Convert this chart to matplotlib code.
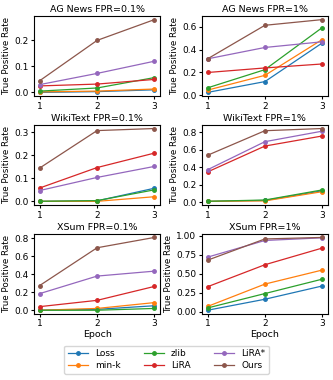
import matplotlib
matplotlib.use('Agg')
import matplotlib.pyplot as plt

epochs = [1, 2, 3]
methods = ['Loss', 'min-k', 'zlib', 'LiRA', 'LiRA*', 'Ours']
colors = ['#1f77b4', '#ff7f0e', '#2ca02c', '#d62728', '#9467bd', '#8c564b']

titles = ['AG News FPR=0.1%', 'AG News FPR=1%',
          'WikiText FPR=0.1%', 'WikiText FPR=1%',
          'XSum FPR=0.1%', 'XSum FPR=1%']

# TPR per method (Loss, min-k, zlib, LiRA, LiRA*, Ours)
ag_01 = [[0.0, 0.003, 0.01], [0.002, 0.005, 0.013], [0.005, 0.017, 0.057],
         [0.025, 0.032, 0.05], [0.03, 0.073, 0.12], [0.045, 0.2, 0.28]]
ag_1 = [[0.025, 0.12, 0.46], [0.045, 0.175, 0.49], [0.065, 0.225, 0.595],
        [0.2, 0.24, 0.275], [0.32, 0.42, 0.47], [0.32, 0.615, 0.665]]
wiki_01 = [[0.0, 0.002, 0.057], [0.0, 0.0, 0.02], [0.0, 0.003, 0.05],
           [0.058, 0.147, 0.21], [0.047, 0.104, 0.152], [0.145, 0.308, 0.317]]
wiki_1 = [[0.01, 0.02, 0.13], [0.01, 0.015, 0.12], [0.01, 0.025, 0.14],
          [0.345, 0.64, 0.755], [0.37, 0.69, 0.81], [0.535, 0.815, 0.84]]
xsum_01 = [[0.0, 0.01, 0.05], [0.0, 0.02, 0.085], [0.0, 0.0, 0.02],
           [0.04, 0.11, 0.265], [0.185, 0.38, 0.435], [0.275, 0.695, 0.81]]
xsum_1 = [[0.02, 0.165, 0.34], [0.07, 0.365, 0.55], [0.05, 0.24, 0.43],
          [0.33, 0.62, 0.84], [0.72, 0.94, 0.975], [0.68, 0.96, 0.98]]

panels = [ag_01, ag_1, wiki_01, wiki_1, xsum_01, xsum_1]
yticks = [[0.0, 0.1, 0.2], [0.0, 0.2, 0.4, 0.6],
          [0.0, 0.1, 0.2, 0.3], [0.0, 0.2, 0.4, 0.6, 0.8],
          [0.0, 0.2, 0.4, 0.6, 0.8], [0.0, 0.25, 0.5, 0.75, 1.0]]

fig, axes = plt.subplots(3, 2, figsize=(3.33, 3.8), dpi=100)
fig.subplots_adjust(left=0.102, right=0.985, top=0.958, bottom=0.174,
                    hspace=0.36, wspace=0.33)

for i, (ax, title, data) in enumerate(zip(axes.flat, titles, panels)):
    for name, c, vals in zip(methods, colors, data):
        ax.plot(epochs, vals, marker='o', color=c, markersize=2.5,
                linewidth=0.9, label=name)
    ax.set_title(title, fontsize=6.8, pad=3)
    ax.set_ylabel('True Positive Rate', fontsize=6.3, labelpad=2)
    ax.set_xticks(epochs)
    ax.set_yticks(yticks[i])
    if i == 5:
        ax.set_yticklabels(['%.2f' % t for t in yticks[i]])
    ax.tick_params(labelsize=6.5, pad=1.5, length=2.5)

for ax in axes[2]:
    ax.set_xlabel('Epoch', fontsize=6.8, labelpad=1)

handles, labels = axes[0, 0].get_legend_handles_labels()
fig.legend(handles, labels, loc='lower center', ncol=3, fontsize=6.5,
           bbox_to_anchor=(0.5, 0.005), handlelength=2.2, columnspacing=2.6,
           borderpad=0.4, labelspacing=0.3)

plt.savefig('out.png', dpi=100)
